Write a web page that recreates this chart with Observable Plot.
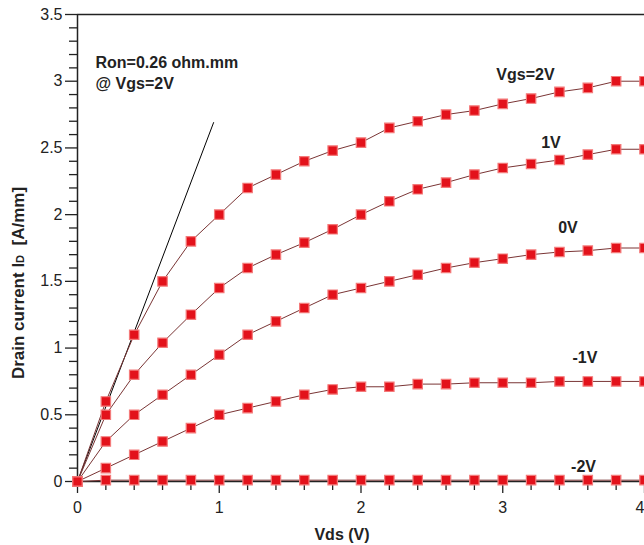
<!DOCTYPE html>
<html>
<head>
<meta charset="utf-8">
<script src="https://cdn.jsdelivr.net/npm/d3@7"></script>
<script src="https://cdn.jsdelivr.net/npm/@observablehq/plot@0.6"></script>
<style>
  html, body { margin: 0; padding: 0; background: #fff; }
  #chart svg { display: block; }
</style>
</head>
<body>
<div id="chart"></div>
<script>
// Drain voltage (V)
const vds = [0, 0.2, 0.4, 0.6, 0.8, 1.0, 1.2, 1.4, 1.6, 1.8, 2.0, 2.2, 2.4, 2.6, 2.8, 3.0, 3.2, 3.4, 3.6, 3.8, 4.0];
// Drain current (A/mm) for each gate voltage
const idVgs2  = [0, 0.60, 1.10, 1.50, 1.80, 2.00, 2.20, 2.30, 2.40, 2.48, 2.54, 2.65, 2.70, 2.75, 2.78, 2.83, 2.87, 2.92, 2.95, 3.00, 3.00];
const idVgs1  = [0, 0.50, 0.80, 1.04, 1.25, 1.45, 1.60, 1.70, 1.79, 1.89, 2.00, 2.10, 2.19, 2.24, 2.30, 2.35, 2.38, 2.41, 2.45, 2.49, 2.49];
const idVgs0  = [0, 0.30, 0.50, 0.65, 0.80, 0.95, 1.10, 1.20, 1.30, 1.40, 1.45, 1.50, 1.55, 1.60, 1.64, 1.67, 1.70, 1.72, 1.73, 1.75, 1.75];
const idVgsM1 = [0, 0.10, 0.20, 0.30, 0.40, 0.50, 0.55, 0.60, 0.65, 0.69, 0.71, 0.71, 0.73, 0.73, 0.74, 0.74, 0.74, 0.75, 0.75, 0.75, 0.75];
const idVgsM2 = [0, 0.01, 0.01, 0.01, 0.01, 0.01, 0.01, 0.01, 0.01, 0.01, 0.01, 0.01, 0.01, 0.01, 0.01, 0.01, 0.01, 0.01, 0.01, 0.01, 0.01];
const seriesNames = ["Vgs=2V", "1V", "0V", "-1V", "-2V"];
const seriesValues = [idVgs2, idVgs1, idVgs0, idVgsM1, idVgsM2];

// Series label anchors (data units)
const labelVds = [3.16, 3.34, 3.46, 3.58, 3.57];
const labelId  = [3.05, 2.54, 1.90, 0.93, 0.11];

// Ron reference line (data units)
const refVds = [0, 0.96];
const refId  = [0, 2.69];

// Annotation
const noteLines = ["Ron=0.26 ohm.mm", "@ Vgs=2V"];
const noteVds = [0.127, 0.127];
const noteId  = [3.14, 2.98];

// Ticks
const xMajorTicks = [0, 1, 2, 3];
const xLastTick = [4];
const xMinorTicks = [0.2, 0.4, 0.6, 0.8, 1.2, 1.4, 1.6, 1.8, 2.2, 2.4, 2.6, 2.8, 3.2, 3.4, 3.6, 3.8];
const yMajorTicks = [0, 0.5, 1, 1.5, 2, 2.5, 3, 3.5];
const yMinorTicks = [0.1, 0.2, 0.3, 0.4, 0.6, 0.7, 0.8, 0.9, 1.1, 1.2, 1.3, 1.4, 1.6, 1.7, 1.8, 1.9,
                     2.1, 2.2, 2.3, 2.4, 2.6, 2.7, 2.8, 2.9, 3.1, 3.2, 3.3, 3.4];

const xLabel = "Vds (V)";

const rows = [];
seriesNames.forEach((name, s) => {
  vds.forEach((v, i) => rows.push({series: name, vds: v, id: seriesValues[s][i]}));
});
const refRows = refVds.map((v, i) => ({vds: v, id: refId[i]}));
const labelRows = seriesNames.map((n, i) => ({text: n, vds: labelVds[i], id: labelId[i]}));
const noteRows = noteLines.map((t, i) => ({text: t, vds: noteVds[i], id: noteId[i]}));

const W = 644, H = 545;
const font = "'Liberation Sans', Arial, Helvetica, sans-serif";
const fmt = d => String(d);

const chart = Plot.plot({
  width: W,
  height: H,
  marginLeft: 77,
  marginRight: 0,
  marginTop: 14,
  marginBottom: 64,
  style: {fontFamily: font, fontSize: "16px", color: "#222", background: "#fff", overflow: "hidden"},
  x: {domain: [0, 4]},
  y: {domain: [0, 3.5]},
  marks: [
    Plot.axisX(xMinorTicks, {tickSize: 9, tickFormat: () => "", stroke: "#222", strokeWidth: 1.3, label: null}),
    Plot.axisX(xMajorTicks, {tickSize: 12, tickPadding: 8, tickFormat: fmt, stroke: "#222", strokeWidth: 1.3, label: null, fill: "#222"}),
    Plot.axisX(xLastTick, {tickSize: 12, tickPadding: 8, tickFormat: fmt, textAnchor: "end", stroke: "#222", strokeWidth: 1.3, label: null, fill: "#222"}),
    Plot.axisY(yMinorTicks, {tickSize: 8, tickFormat: () => "", stroke: "#222", strokeWidth: 1.3, label: null}),
    Plot.axisY(yMajorTicks, {tickSize: 12, tickPadding: 3, tickFormat: fmt, stroke: "#222", strokeWidth: 1.3, label: null, fill: "#222"}),
    Plot.ruleX([4], {stroke: "#bbb", strokeWidth: 1}),
    Plot.ruleY([3.5], {stroke: "#222", strokeWidth: 1.5}),
    Plot.ruleX([0], {stroke: "#222", strokeWidth: 1.5}),
    Plot.ruleY([0], {stroke: "#222", strokeWidth: 1.5}),
    Plot.line(refRows, {x: "vds", y: "id", stroke: "#000", strokeWidth: 1}),
    Plot.line(rows, {x: "vds", y: "id", z: "series", stroke: "#7a3535", strokeWidth: 1}),
    Plot.dot(rows, {x: "vds", y: "id", symbol: "square", r: 5.3, fill: "#e3121b", stroke: "#f47a7a", strokeWidth: 1.2}),
    Plot.text(labelRows, {x: "vds", y: "id", text: "text", textAnchor: "middle", lineAnchor: "middle",
      fontSize: 16, fontWeight: "bold", fill: "#222"}),
    Plot.text(noteRows, {x: "vds", y: "id", text: "text", textAnchor: "start", lineAnchor: "middle",
      fontSize: 16, fontWeight: "bold", fill: "#222"})
  ]
});

const svg = d3.select(chart);
// Y axis title with subscript-style D
const yt = svg.append("text")
  .attr("transform", "translate(24,283) rotate(-90)")
  .attr("text-anchor", "middle")
  .attr("font-family", font)
  .attr("font-size", 17)
  .attr("font-weight", "bold")
  .attr("fill", "#222");
yt.append("tspan").text("Drain current I");
yt.append("tspan").attr("font-size", 11).text("D");
yt.append("tspan").text("\u00a0\u00a0[A/mm]");
// X axis title
svg.append("text")
  .attr("x", 342).attr("y", 540)
  .attr("text-anchor", "middle")
  .attr("font-family", font)
  .attr("font-size", 16)
  .attr("font-weight", "bold")
  .attr("fill", "#222")
  .text(xLabel);

document.getElementById("chart").appendChild(chart);
</script>
</body>
</html>
